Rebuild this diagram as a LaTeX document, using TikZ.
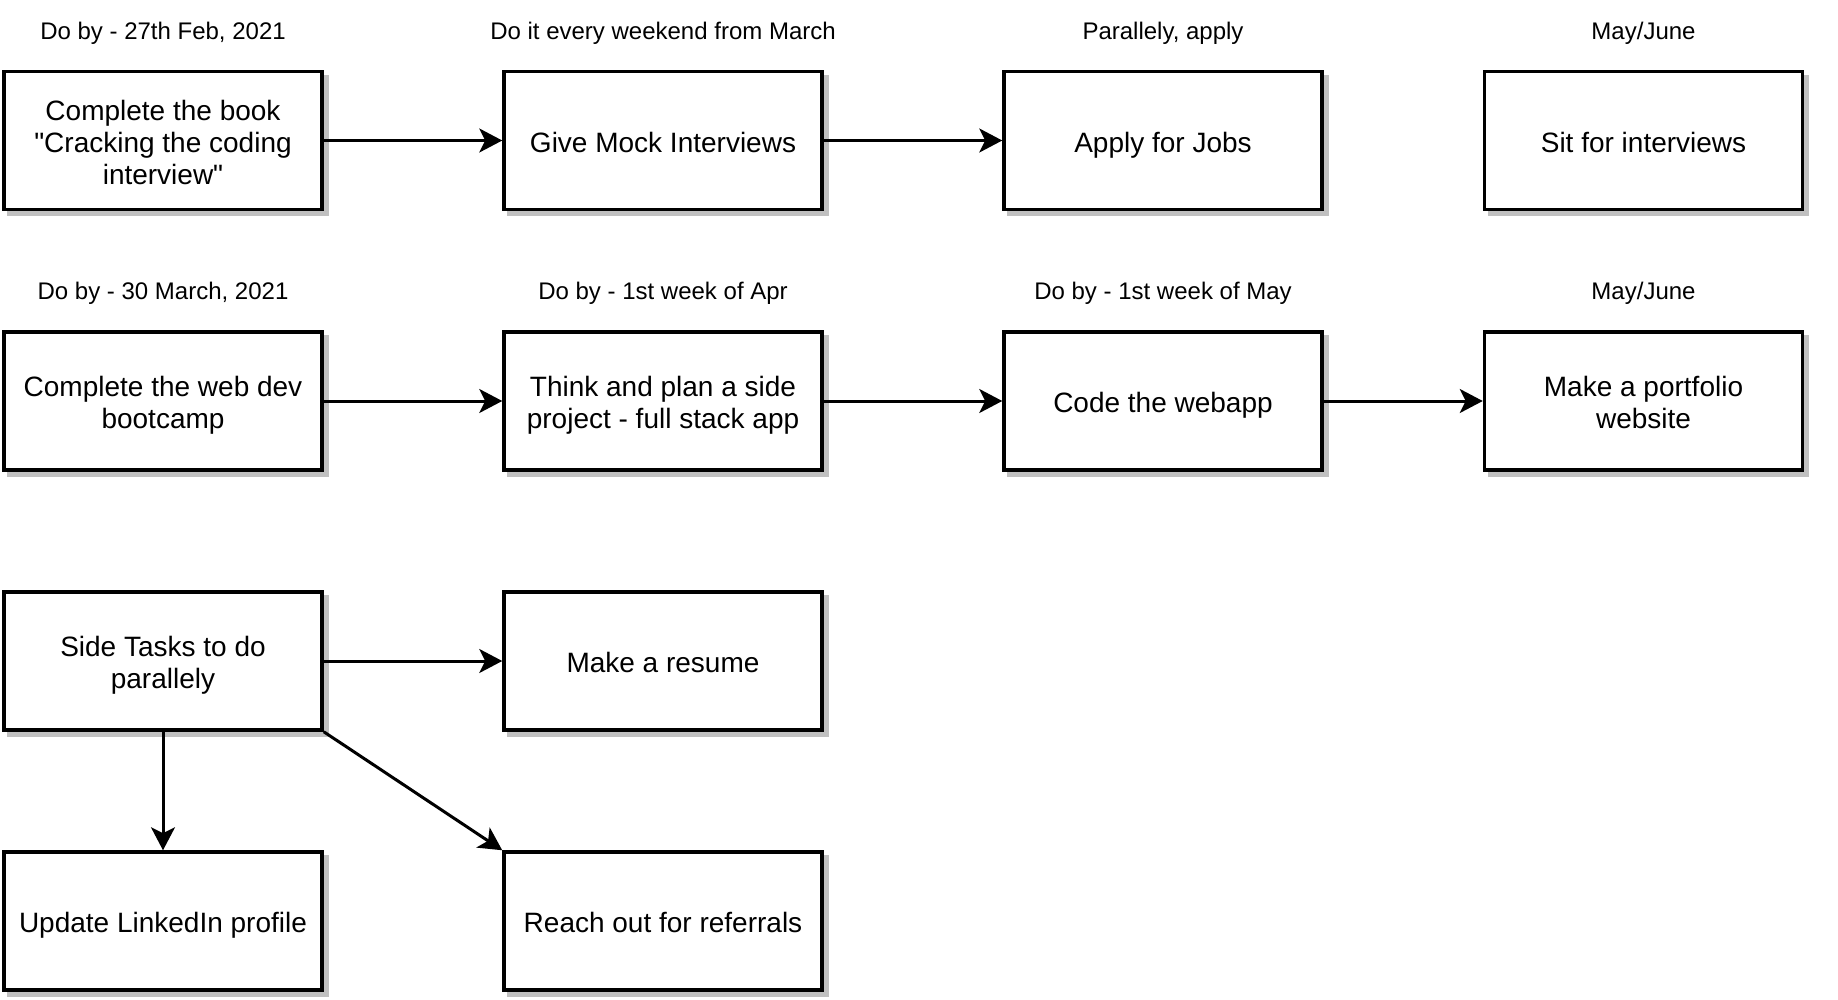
\documentclass[tikz,border=0pt]{standalone}
\usepackage{fontspec}
\setmainfont{Liberation Sans}
\usetikzlibrary{arrows.meta,shadows}
\definecolor{shadowgray}{HTML}{C0C0C0}
\newcommand{\topstrut}{\rule{0pt}{33pt}}
\begin{document}
\begin{tikzpicture}[x=1pt,y=-1pt,
  task/.style={draw=black, fill=white, line width=3.5pt, minimum width=318pt, minimum height=138pt,
    align=center, inner sep=2pt, font=\fontsize{28}{32}\selectfont,
    execute at begin node=\topstrut, execute at end node=\strut,
    drop shadow={shadow xshift=5pt, shadow yshift=-5pt, fill=shadowgray, draw=shadowgray, opacity=1}},
  lbl/.style={font=\fontsize{24}{28}\selectfont, inner sep=0pt},
  conn/.style={line width=3pt, -{Stealth[length=23pt,width=24pt,inset=6pt]}}]
\useasboundingbox (0,0) rectangle (1838,1000);
% row 1
\node[task] (a1) at (163,140.5) {\topstrut Complete the book\\\textquotedbl Cracking the coding\\interview\textquotedbl\strut};
\node[task] (a2) at (663,140.5) {Give Mock Interviews};
\node[task] (a3) at (1163,140.5) {Apply for Jobs};
\node[task] (a4) at (1643.5,140.5) {Sit for interviews};
\node[lbl] (la1) at (163,33) {Do by - 27th Feb, 2021};
\node[lbl] (la2) at (663,33) {Do it every weekend from March};
\node[lbl] (la3) at (1163,33) {Parallely, apply};
\node[lbl] (la4) at (1643.5,33) {May/June};
% row 2
\node[task] (b1) at (163,401) {\topstrut Complete the web dev\\bootcamp\strut};
\node[task] (b2) at (663,401) {\topstrut Think and plan a side\\project - full stack app\strut};
\node[task] (b3) at (1163,401) {Code the webapp};
\node[task] (b4) at (1643.5,401) {\topstrut Make a portfolio\\website\strut};
\node[lbl] (lb1) at (163,293) {Do by - 30 March, 2021};
\node[lbl] (lb2) at (663,293) {Do by - 1st week of Apr};
\node[lbl] (lb3) at (1163,293) {Do by - 1st week of May};
\node[lbl] (lb4) at (1643.5,293) {May/June};
% rows 3-4
\node[task] (c1) at (163,661) {\topstrut Side Tasks to do\\parallely\strut};
\node[task] (c2) at (663,661) {Make a resume};
\node[task] (d1) at (163,921) {Update LinkedIn profile};
\node[task] (d2) at (663,921) {Reach out for referrals};
% connectors
\draw[conn] (a1) -- (a2);
\draw[conn] (a2) -- (a3);
\draw[conn] (b1) -- (b2);
\draw[conn] (b2) -- (b3);
\draw[conn] (b3) -- (b4);
\draw[conn] (c1) -- (c2);
\draw[conn] (c1) -- (d1);
\draw[conn] (c1.south east) -- (d2.north west);
\end{tikzpicture}
\end{document}
